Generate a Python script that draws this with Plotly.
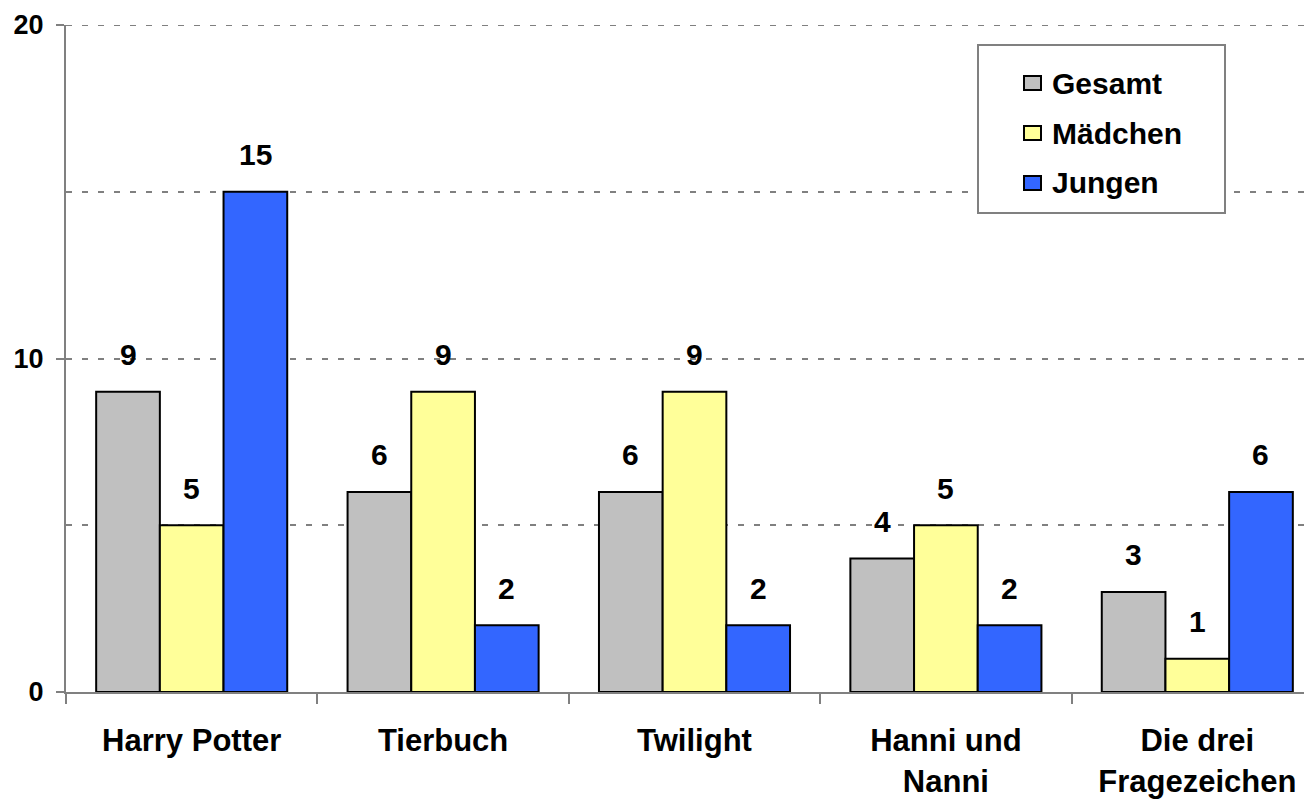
import plotly.graph_objects as go

# data
categories = ["Harry Potter", "Tierbuch", "Twilight", "Hanni und<br>Nanni", "Die drei<br>Fragezeichen"]
series_names = ["Gesamt", "Mädchen", "Jungen"]
gesamt = [9, 6, 6, 4, 3]
maedchen = [5, 9, 9, 5, 1]
jungen = [15, 2, 2, 2, 6]
y_ticks = [0, 10, 20]

colors = ["#C0C0C0", "#FFFF99", "#3366FF"]
FONT = "Liberation Sans, Arial, sans-serif"
GRID = "#808080"

# plot geometry (px); page body has an 8px margin
OFF = 8
W, H = 1312, 804
L, R, T, B = 66 - OFF, 0, 25 - OFF, H - (692 - OFF)
plot_w = W - L - R
plot_h = H - T - B
cat_px = 251.4
x_range = [-0.5, -0.5 + plot_w / cat_px]
bargap = 0.24
bar_px = cat_px * (1 - bargap) / 3

fig = go.Figure()
for i, (name, vals) in enumerate(zip(series_names, [gesamt, maedchen, jungen])):
    fig.add_trace(go.Bar(
        x=categories, y=vals, name=name,
        marker=dict(color=colors[i], line=dict(color="black", width=2)),
        showlegend=False,
    ))
    # value labels above bars
    for c, v in zip(categories, vals):
        fig.add_annotation(
            x=c, y=v, text=f"<b>{v}</b>", showarrow=False,
            xshift=(i - 1) * bar_px, yshift=37,
            font=dict(family=FONT, size=30, color="black"),
        )

# top gridline (plotly drops the one at the range edge)
fig.add_hline(y=y_ticks[-1], line=dict(color=GRID, width=2, dash="6px,10px"), layer="below")

# custom legend box (page px -> paper)
def px_x(p):
    return (p - OFF - L) / plot_w

def px_y(p):
    return (H - B - (p - OFF)) / plot_h

fig.add_shape(type="rect", xref="paper", yref="paper",
              x0=px_x(978), x1=px_x(1225), y0=px_y(213), y1=px_y(45),
              line=dict(color=GRID, width=2), fillcolor="white", layer="above")
for i, name in enumerate(series_names):
    cy = 83 + i * 50
    fig.add_shape(type="rect", xref="paper", yref="paper",
                  x0=px_x(1024), x1=px_x(1041), y0=px_y(cy + 7), y1=px_y(cy - 7),
                  line=dict(color="black", width=2), fillcolor=colors[i], layer="above")
    fig.add_annotation(xref="paper", yref="paper", x=px_x(1050), y=px_y(cy),
                       xanchor="left", yanchor="middle", showarrow=False,
                       text=f"<b>{name}</b>", font=dict(family=FONT, size=30, color="black"))

fig.update_layout(
    width=W, height=H,
    margin=dict(l=L, r=R, t=T, b=B, pad=0),
    barmode="group", bargap=bargap, bargroupgap=0,
    plot_bgcolor="white", paper_bgcolor="white",
    font=dict(family=FONT, color="black"),
    showlegend=False,
)
fig.update_xaxes(
    range=x_range, tickson="boundaries", ticks="outside", ticklen=10,
    tickcolor=GRID, tickwidth=2, showline=True, linecolor=GRID, linewidth=2,
    showgrid=False, tickfont=dict(family=FONT, size=31, color="black"),
    ticklabelstandoff=20, tickprefix="<b>", ticksuffix="</b>",
)
fig.update_yaxes(
    range=[0, 20], tickvals=y_ticks, ticktext=[f"<b>{t}</b>" for t in y_ticks],
    ticks="outside", ticklen=8, tickcolor=GRID, tickwidth=2,
    showline=True, linecolor=GRID, linewidth=2,
    showgrid=True, gridcolor=GRID, griddash="6px,10px", gridwidth=2,
    minor=dict(dtick=5, showgrid=True, gridcolor=GRID, griddash="6px,10px", gridwidth=2),
    zeroline=False, tickfont=dict(family=FONT, size=27, color="black"),
    ticklabelstandoff=7,
)

fig.write_html("out.html")
